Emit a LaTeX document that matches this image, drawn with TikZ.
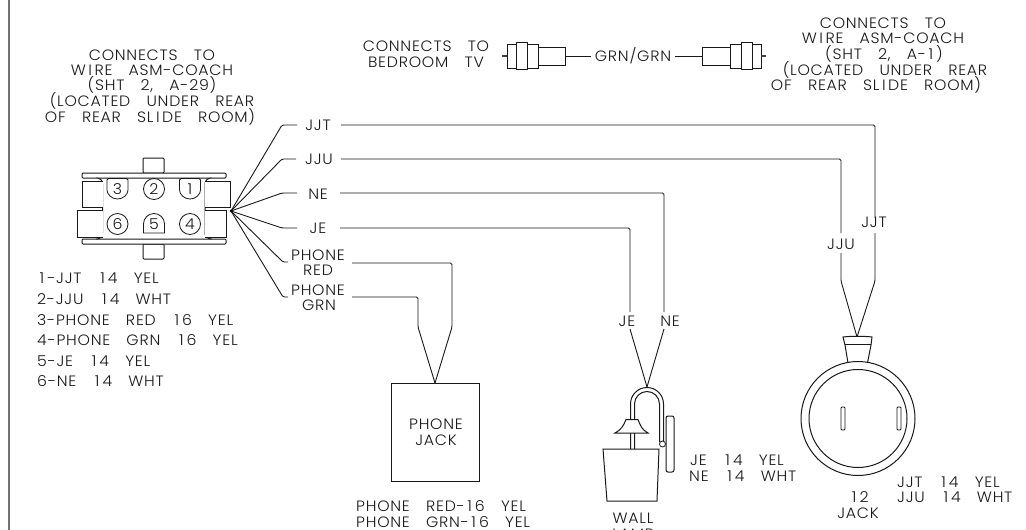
\documentclass[tikz,border=0pt]{standalone}
\usepackage{fontspec}
\newfontfamily\cadfont{Poppins Light}[LetterSpace=5,WordSpace=3.2,FakeStretch=1.05]
\newcommand\wI{\kern2.5pt I\kern2.5pt}
\newcommand\wO{\kern2.5pt 1\kern3pt}
\tikzset{
  txt/.style={inner sep=0pt,text height=11pt,text depth=0pt,font=\cadfont\fontsize{15}{15}\selectfont,text=black!90},
  ltxt/.style={txt,anchor=west},
  wire/.style={draw=black!90,line width=0.9pt,rounded corners=1.5pt,line join=round},
  part/.style={draw=black!90,line width=1pt,fill=white},
  thin part/.style={draw=black!90,line width=0.8pt,fill=white}
}
\begin{document}
\begin{tikzpicture}[x=1pt,y=-1pt]
\useasboundingbox (0,0) rectangle (1026,530);
\fill[white] (0,0) rectangle (1026,530);
\draw[black!55,line width=1.4pt] (9,0) -- (9,530);

% ---- texts, left block
\node[txt] (a1) at (152,55) {CONNECTS TO};
\node[txt] (a2) at (152,70) {W\wI RE ASM-COACH};
\node[txt] (a3) at (152,85) {(SHT 2, A-29)};
\node[txt] (a4) at (152,101) {(LOCATED UNDER REAR};
\node[txt] (a5) at (150,117) {OF REAR SL\wI DE ROOM)};
% ---- right block
\node[txt] (b1) at (883,23) {CONNECTS TO};
\node[txt] (b2) at (883,38) {W\wI RE ASM-COACH};
\node[txt] (b3) at (884,54) {(SHT 2, A-\wO)};
\node[txt] (b4) at (885,70) {(LOCATED UNDER REAR};
\node[txt] (b5) at (876,85) {OF REAR SL\wI DE ROOM)};
% ---- TV
\node[txt] (c1) at (426,46) {CONNECTS TO};
\node[txt] (c2) at (426,62) {BEDROOM TV};
\node[txt] (grn) at (633,56) {GRN/GRN};
% ---- list
\node[ltxt] (l1) at (37,278) {\wO-JJT \wO 4 YEL};
\node[ltxt] (l2) at (37,299) {2-JJU \wO 4 WHT};
\node[ltxt] (l3) at (37,320) {3-PHONE RED \wO 6 YEL};
\node[ltxt] (l4) at (37,340) {4-PHONE GRN \wO 6 YEL};
\node[ltxt] (l5) at (37,361) {5-JE \wO 4 YEL};
\node[ltxt] (l6) at (37,381) {6-NE \wO 4 WHT};

% ---- coax left
\coordinate (cxL) at (565,56);
\coordinate (cxR) at (702,56);
\coordinate (g1) at (591,56);
\coordinate (g2) at (675,56);
\draw[line width=2pt,black!75] (502,56) -- (507,56);
\draw[part] (507,44.5) rectangle (538,68);
\draw[part] (538,47) rectangle (565,65);
\draw[part] (516,42) rectangle (527,69.5);
\draw[wire] (cxL) -- (g1);
\draw[wire] (g2) -- (cxR);
\draw[part] (702,47) rectangle (730,65);
\draw[part] (730,44.5) rectangle (761,68);
\draw[part] (741,42) rectangle (752,69.5);
\draw[line width=2pt,black!75] (761,56) -- (766,56);

% ---- connector
\draw[part,rounded corners=1pt] (143,158) rectangle (164,173);
\draw[part,rounded corners=1pt] (143,244) rectangle (164,259);
\draw[part,rounded corners=1pt] (82,173) rectangle (226,178);
\draw[part,rounded corners=1pt] (82,239) rectangle (226,244);
\draw[part] (96,178) .. controls (100,178) and (102.5,180) .. (102.5,184) -- (102.5,233) .. controls (102.5,237) and (100,239) .. (96,239);
\draw[part] (212,178) .. controls (208,178) and (205,180) .. (205,184) -- (205,233) .. controls (205,237) and (208,239) .. (212,239);
\draw[part] (102.5,181) -- (82,181) -- (82,207) -- (102.5,207);
\draw[part] (102.5,210) -- (77,210) -- (77,237) -- (102.5,237);
\draw[part] (205,181) -- (230,181) -- (230,207) -- (205,207);
\draw[part] (205,210) -- (226,210) -- (226,237) -- (205,237);
% pins
\draw[thin part,rounded corners=1.5pt] (107,178.5) -- (128,178.5) -- (128,188.5) arc[start angle=0,end angle=180,radius=10.5] -- cycle;
\draw[thin part,rounded corners=1.5pt] (179.5,178.5) -- (200.5,178.5) -- (200.5,188.5) arc[start angle=0,end angle=180,radius=10.5] -- cycle;
\draw[thin part] (143.5,233) -- (164.5,233) -- (164.5,224) arc[start angle=0,end angle=-180,radius=10.5] -- cycle;
\draw[thin part] (154,189) circle[radius=10.5];
\draw[thin part] (117.5,224) circle[radius=10.5];
\draw[thin part] (190,224) circle[radius=10.5];
\node[txt] (p3) at (117.5,189) {3};
\node[txt] (p2) at (154,189) {2};
\node[txt] (p1) at (190,189) {1};
\node[txt] (p6) at (117.5,224) {6};
\node[txt] (p5) at (154,224) {5};
\node[txt] (p4) at (190,224) {4};

% ---- wire labels
\node[txt] (wJJT) at (318,125) {JJT};
\node[txt] (wJJU) at (319,159) {JJU};
\node[txt] (wNE) at (318,194) {NE};
\node[txt] (wJE) at (318,228) {JE};
\node[txt] (wRa) at (318,255) {PHONE};
\node[txt] (wRb) at (318,270) {RED};
\node[txt] (wGa) at (318,290) {PHONE};
\node[txt] (wGb) at (319,305) {GRN};
\node[txt] (vJE) at (627,321) {JE};
\node[txt] (vNE) at (670,321) {NE};
\node[txt] (vJJU) at (841,244) {JJU};
\node[txt] (vJJT) at (874,222) {JJT};

% ---- wire coordinates
\coordinate (hub) at (231,211);
\coordinate (jjt1) at (282,125);  \coordinate (jjt2) at (297,125);
\coordinate (jjt3) at (341,125);  \coordinate (jjt4) at (875,125);
\coordinate (jjt5) at (875,218);  \coordinate (jjt6) at (875,233);
\coordinate (jjt7) at (875,281);  \coordinate (jackTop) at (857,337);
\coordinate (jju1) at (282,159);  \coordinate (jju2) at (296,159);
\coordinate (jju3) at (341,159);  \coordinate (jju4) at (841,159);
\coordinate (jju5) at (841,233);  \coordinate (jju6) at (841,253);
\coordinate (jju7) at (841,281);
\coordinate (ne1) at (282,193);   \coordinate (ne2) at (297,193);
\coordinate (ne3) at (340,193);   \coordinate (ne4) at (664,193);
\coordinate (ne5) at (664,312);   \coordinate (ne6) at (664,329);
\coordinate (lampTop) at (647,387);
\coordinate (je1) at (282,228);   \coordinate (je2) at (297,228);
\coordinate (je3) at (340,228);   \coordinate (je4) at (630,228);
\coordinate (je5) at (630,312);   \coordinate (je6) at (630,329);
\coordinate (r1) at (283,262);    \coordinate (r2) at (288,262);
\coordinate (r3) at (352,263);    \coordinate (r4) at (452,263);
\coordinate (r5) at (452,327);
\coordinate (g1w) at (283,297);   \coordinate (g2w) at (288,297);
\coordinate (g3w) at (352,297);   \coordinate (g4w) at (418,297);
\coordinate (g5w) at (418,327);
\coordinate (phTop) at (435,383);

\draw[wire] (hub) -- (jjt1) -- (jjt2);
\draw[wire] (jjt3) -- (jjt4) -- (jjt5);
\draw[wire] (jjt6) -- (jjt7) -- (jackTop);
\draw[wire] (hub) -- (jju1) -- (jju2);
\draw[wire] (jju3) -- (jju4) -- (jju5);
\draw[wire] (jju6) -- (jju7) -- (jackTop);
\draw[wire] (hub) -- (ne1) -- (ne2);
\draw[wire] (ne3) -- (ne4) -- (ne5);
\draw[wire] (ne6) -- (lampTop);
\draw[wire] (hub) -- (je1) -- (je2);
\draw[wire] (je3) -- (je4) -- (je5);
\draw[wire] (je6) -- (lampTop);
\draw[wire] (hub) -- (r1) -- (r2);
\draw[wire] (r3) -- (r4) -- (r5) -- (phTop);
\draw[wire] (hub) -- (g1w) -- (g2w);
\draw[wire] (g3w) -- (g4w) -- (g5w) -- (phTop);
\fill[black] (hub) circle[radius=1.5];

% ---- phone jack
\node[draw=black!90,line width=1pt,inner sep=0pt,minimum width=88pt,minimum height=98pt] (ph) at (435,432) {};
\node[txt] (ph1) at (436,424) {PHONE};
\node[txt] (ph2) at (436,440) {JACK};
\node[ltxt] (ph3) at (356,506) {PHONE RED-\wO 6 YEL};
\node[ltxt] (ph4) at (356,522) {PHONE GRN-\wO 6 YEL};

% ---- lamp
\draw[part,fill=none] (630.5,450) -- (630.5,404) arc[start angle=180,end angle=360,radius=16.5] -- (663.5,442);
\draw[part,fill=none] (634.5,450) -- (634.5,404) arc[start angle=180,end angle=360,radius=12.5] -- (659.5,442);
\draw[part] (615,433) -- (648,433) .. controls (642,430) and (640,425) .. (638,419.5) -- (626,419.5) .. controls (624,425) and (621,430) .. (615,433) -- cycle;
\draw[part] (603,449) -- (659,449) -- (657,501) -- (607,501) -- cycle;
\draw[part,rounded corners=2pt] (666,416) rectangle (674,472);
\draw[thin part] (662.5,444) circle[radius=3];
\node[txt] (w1) at (633,518) {WALL};
\node[txt] (w2) at (633,534) {LAMP};
\node[ltxt] (w3) at (690,460) {JE \wO 4 YEL};
\node[ltxt] (w4) at (689,476) {NE \wO 4 WHT};

% ---- jack
\draw[part] (843,337) .. controls (852,336) and (863,336) .. (872,337) -- (871,345) -- (867.5,363) -- (848,363) -- (845,345) -- cycle;
\draw[part] (845,344.5) -- (871,344.5);
\draw[part] (858,418.5) circle[radius=57];
\draw[part] (858,418.5) circle[radius=49];
\draw[thin part,rounded corners=1pt] (841,407) rectangle (845,430);
\draw[thin part,rounded corners=1pt] (897,407) rectangle (901,430);
\node[txt] (j1) at (859,497) {\wO 2};
\node[txt] (j2) at (858,513) {JACK};
\node[ltxt] (j3) at (897,482) {JJT \wO 4 YEL};
\node[ltxt] (j4) at (897,497) {JJU \wO 4 WHT};
\end{tikzpicture}
\end{document}
